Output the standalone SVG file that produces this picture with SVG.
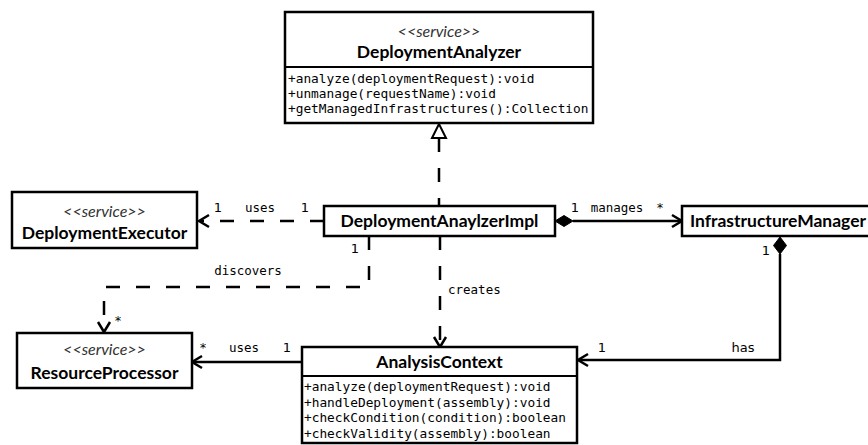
<svg xmlns="http://www.w3.org/2000/svg" width="868" height="445" viewBox="0 0 868 445">
<style>
.box{fill:#fff;stroke:#000;stroke-width:2.5}
.div{stroke:#000;stroke-width:2}
.st{font-family:Lato,"Liberation Sans",sans-serif;font-style:italic;font-weight:normal;font-size:16px;fill:#333;text-anchor:middle}
.ti{font-family:Lato,"Liberation Sans",sans-serif;font-weight:bold;font-size:17.5px;fill:#000;text-anchor:middle}
.tl{font-family:Lato,"Liberation Sans",sans-serif;font-weight:bold;font-size:17.5px;fill:#000}
.me{font-family:"DejaVu Sans Mono","Liberation Mono",monospace;font-size:12.8px;fill:#000}
.lb{font-family:"DejaVu Sans Mono","Liberation Mono",monospace;font-size:12.5px;fill:#000;text-anchor:middle}
.ls{font-family:"DejaVu Sans Mono","Liberation Mono",monospace;font-size:12.5px;fill:#000}
.mu{font-family:"DejaVu Sans","Liberation Sans",sans-serif;font-size:13px;fill:#000;text-anchor:middle}
.ln{fill:none;stroke:#000;stroke-width:2.5}
.da{fill:none;stroke:#000;stroke-width:2.5;stroke-dasharray:14 16}
.ah{fill:none;stroke:#000;stroke-width:2.5}
</style>
<g id="connectors">
  <line class="da" x1="439" y1="138" x2="439" y2="206"/>
  <polygon points="439,124 432,138 446,138" fill="#fff" stroke="#000" stroke-width="2"/>
  <line class="da" x1="324" y1="221" x2="200" y2="221"/>
  <path class="ah" d="M209,215 L199,221 L209,227"/>
  <line class="ln" x1="573" y1="221" x2="681" y2="221"/>
  <polygon points="555,221 564,215.5 573,221 564,226.5" fill="#000" stroke="#000" stroke-width="1"/>
  <path class="ah" d="M672,215 L682,221 L672,227"/>
  <path class="ln" d="M780,254 V360 H579"/>
  <polygon points="780,237 786.5,245.5 780,254 773.5,245.5" fill="#000" stroke="#000" stroke-width="1"/>
  <path class="ah" d="M588,354 L578,360 L588,366"/>
  <line class="da" x1="440" y1="236" x2="440" y2="346"/>
  <path class="ah" d="M434,337 L440,347 L446,337"/>
  <path class="da" d="M369,236 V287 H104 V331"/>
  <path class="ah" d="M98,322 L104,332 L110,322"/>
  <line class="ln" x1="302" y1="362" x2="193" y2="362"/>
  <path class="ah" d="M202,356 L192,362 L202,368"/>
  <text class="mu" x="218" y="212">1</text>
  <text class="lb" x="260" y="212">uses</text>
  <text class="mu" x="305" y="212">1</text>
  <text class="mu" x="575" y="212">1</text>
  <text class="lb" x="617" y="212">manages</text>
  <text class="lb" x="660" y="212">*</text>
  <text class="mu" x="766" y="255">1</text>
  <text class="mu" x="602" y="352">1</text>
  <text class="mu" x="743" y="352">has</text>
  <text class="ls" x="448" y="294">creates</text>
  <text class="lb" x="248" y="275">discovers</text>
  <text class="mu" x="355" y="253">1</text>
  <text class="lb" x="118" y="325">*</text>
  <text class="lb" x="203" y="352">*</text>
  <text class="lb" x="244" y="352">uses</text>
  <text class="mu" x="287" y="352">1</text>
</g>
<g id="DeploymentAnalyzer">
  <rect class="box" x="285" y="12" width="308" height="111"/>
  <line class="div" x1="285" y1="67" x2="593" y2="67"/>
  <text class="st" x="439" y="37">&lt;&lt;service&gt;&gt;</text>
  <text class="ti" x="439" y="58">DeploymentAnalyzer</text>
  <text class="me" x="288" y="82.5">+analyze(deploymentRequest):void</text>
  <text class="me" x="288" y="97.5">+unmanage(requestName):void</text>
  <text class="me" x="288" y="112.5">+getManagedInfrastructures():Collection</text>
</g>
<g id="DeploymentExecutor">
  <rect class="box" x="12" y="192" width="185" height="56"/>
  <text class="st" x="104.5" y="217">&lt;&lt;service&gt;&gt;</text>
  <text class="ti" x="104.5" y="239">DeploymentExecutor</text>
</g>
<g id="DeploymentAnaylzerImpl">
  <rect class="box" x="324" y="206" width="231" height="30"/>
  <text class="ti" x="439.5" y="227">DeploymentAnaylzerImpl</text>
</g>
<g id="InfrastructureManager">
  <rect class="box" x="682" y="206" width="200" height="30"/>
  <text class="tl" x="690" y="227">InfrastructureManager</text>
</g>
<g id="ResourceProcessor">
  <rect class="box" x="17" y="333" width="175" height="55"/>
  <text class="st" x="104.5" y="355">&lt;&lt;service&gt;&gt;</text>
  <text class="ti" x="104.5" y="379">ResourceProcessor</text>
</g>
<g id="AnalysisContext">
  <rect class="box" x="302" y="347" width="275" height="96"/>
  <line class="div" x1="302" y1="376" x2="577" y2="376"/>
  <text class="ti" x="439.5" y="368">AnalysisContext</text>
  <text class="me" x="304" y="391">+analyze(deploymentRequest):void</text>
  <text class="me" x="304" y="407">+handleDeployment(assembly):void</text>
  <text class="me" x="304" y="422">+checkCondition(condition):boolean</text>
  <text class="me" x="304" y="438">+checkValidity(assembly):boolean</text>
</g>
</svg>
